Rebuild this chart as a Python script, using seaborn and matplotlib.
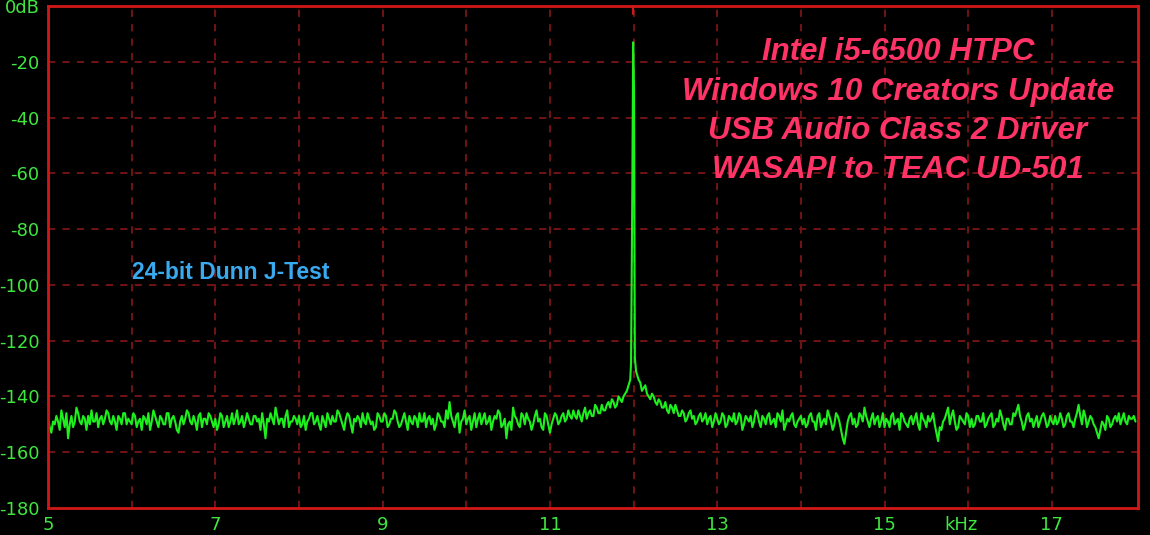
import numpy as np
import matplotlib
matplotlib.use('Agg')
import matplotlib.pyplot as plt
import seaborn as sns

# noise floor, 5.00 .. 11.96 kHz, 0.04 kHz step (dB)
lo_db = [
    -148, -153, -150, -149, -145, -151, -155, -147, -149, -146, -150, -148, -147, -145, -149, -151, -147, -148, -146, -150, -149, -147, -150, -146, -148,
    -150, -147, -149, -152, -148, -146, -149, -147, -151, -148, -150, -146, -148, -149, -153, -147, -148, -146, -150, -149, -147, -151, -148, -146, -149,
    -148, -150, -147, -149, -151, -146, -148, -150, -147, -149, -148, -150, -147, -148, -146, -155, -149, -148, -144, -150, -148, -147, -151, -149, -148,
    -147, -150, -152, -148, -146, -149, -150, -147, -151, -148, -147, -149, -146, -150, -148, -147, -153, -149, -148, -146, -150, -148, -149, -151, -147,
    -149, -147, -150, -148, -146, -151, -148, -149, -147, -150, -148, -146, -149, -151, -147, -148, -150, -147, -149, -145, -142, -149, -147, -153, -148,
    -150, -147, -149, -151, -146, -148, -150, -147, -149, -148, -146, -150, -155, -149, -144, -148, -151, -147, -146, -149, -150, -145, -148, -152, -147,
    -153, -148, -147, -149, -146, -148, -147, -145, -148, -147, -146, -148, -145, -147, -144, -146, -145, -143, -144, -142, -143, -141, -140, -138, -134,
]
# in-between readings, 5.02 .. 11.94 kHz
lo_mid_db = [
    -151, -149, -147, -152, -148, -146, -150, -151, -144, -149, -147, -152, -150, -149, -146, -148, -150, -145, -149, -147, -152, -148, -146, -150, -149,
    -146, -151, -148, -147, -150, -152, -145, -149, -147, -150, -146, -151, -147, -152, -149, -150, -145, -149, -147, -152, -146, -148, -150, -147, -151,
    -152, -146, -151, -147, -149, -150, -145, -149, -151, -146, -150, -147, -149, -152, -150, -148, -146, -150, -147, -148, -151, -145, -149, -147, -150,
    -151, -147, -149, -146, -150, -147, -152, -149, -146, -150, -149, -145, -148, -152, -146, -150, -148, -147, -151, -149, -146, -150, -152, -146, -149,
    -146, -151, -148, -145, -149, -150, -146, -152, -149, -147, -151, -149, -146, -148, -150, -152, -146, -149, -151, -148, -147, -151, -146, -149, -145,
    -148, -152, -146, -148, -150, -146, -149, -152, -147, -145, -151, -148, -150, -152, -147, -150, -146, -150, -148, -152, -147, -149, -151, -146, -150,
    -150, -146, -150, -147, -149, -145, -148, -147, -145, -149, -144, -146, -147, -143, -146, -143, -145, -142, -141, -144, -140, -142, -139, -136,
]
# the 12 kHz tone and its neighbouring bins
peak_khz = [11.97, 11.985, 11.995, 12.005, 12.015, 12.03]
peak_db = [-128, -66, -13, -29, -126, -131]
# noise floor, 12.04 .. 18.00 kHz, 0.04 kHz step (dB)
hi_db = [
    -132, -135, -137, -139, -141, -140, -143, -142, -144, -145, -143, -146, -145, -147, -146, -148, -145, -147, -149, -146, -148, -150, -147, -149, -148,
    -149, -147, -150, -148, -146, -149, -147, -150, -148, -147, -149, -146, -151, -148, -147, -150, -148, -146, -149, -152, -148, -147, -150, -149, -147,
    -148, -150, -146, -149, -147, -151, -148, -145, -149, -150, -147, -152, -157, -149, -146, -148, -150, -147, -144, -149, -148, -150, -147, -149, -151,
    -149, -147, -150, -148, -146, -149, -151, -147, -148, -150, -146, -149, -147, -148, -150, -156, -152, -148, -144, -147, -149, -151, -148, -150, -147,
    -148, -150, -147, -149, -151, -148, -146, -150, -149, -147, -152, -148, -150, -147, -143, -149, -150, -146, -148, -149, -151, -147, -148, -150, -149,
    -147, -149, -148, -150, -146, -149, -148, -143, -150, -147, -149, -148, -151, -155, -149, -152, -148, -150, -147, -146, -148, -149, -147, -148, -149,
]
# in-between readings, 12.06 .. 17.98 kHz
hi_mid_db = [
    -134, -138, -136, -140, -139, -142, -141, -144, -142, -146, -144, -143, -147, -145, -149, -146, -148, -150, -147, -149, -146, -148, -151, -146, -150,
    -146, -151, -147, -149, -150, -146, -152, -147, -149, -151, -145, -149, -147, -150, -146, -149, -151, -147, -145, -150, -149, -146, -151, -148, -150,
    -151, -147, -149, -152, -146, -149, -150, -147, -152, -146, -149, -155, -153, -147, -150, -151, -146, -149, -147, -151, -146, -148, -151, -146, -148,
    -151, -146, -149, -152, -147, -150, -148, -150, -146, -152, -148, -151, -149, -146, -153, -151, -149, -146, -150, -145, -152, -147, -149, -146, -151,
    -151, -147, -149, -146, -150, -147, -151, -148, -145, -150, -148, -150, -146, -145, -147, -152, -147, -149, -151, -147, -149, -146, -151, -147, -150,
    -150, -146, -151, -147, -149, -151, -146, -147, -145, -151, -147, -150, -153, -152, -150, -147, -151, -148, -149, -150, -146, -150, -148, -147,
]

y_ticks = [0, -20, -40, -60, -80, -100, -120, -140, -160, -180]
y_labels = ['0dB', '-20', '-40', '-60', '-80', '-100', '-120', '-140', '-160', '-180']
x_ticks = [5, 7, 9, 11, 13, 15, 17]
title_lines = ['Intel i5-6500 HTPC', 'Windows 10 Creators Update',
               'USB Audio Class 2 Driver', 'WASAPI to TEAC UD-501']
test_name = '24-bit Dunn J-Test'

GREEN = '#1ef01e'
LABEL_GREEN = '#3ee63e'
RED = '#d01818'
GRID = '#7a1414'
PINK = '#ff3366'
BLUE = '#3aaaf0'
TICK_FONT = ['Liberation Sans Narrow', 'DejaVu Sans']

lo_khz = 5.0 + 0.04 * np.arange(len(lo_db))
lo_mid_khz = 5.02 + 0.04 * np.arange(len(lo_mid_db))
hi_khz = 12.04 + 0.04 * np.arange(len(hi_db))
hi_mid_khz = 12.06 + 0.04 * np.arange(len(hi_mid_db))
khz = np.concatenate([lo_khz, lo_mid_khz, peak_khz, hi_khz, hi_mid_khz])
db = np.concatenate([lo_db, lo_mid_db, peak_db, hi_db, hi_mid_db])
order = np.argsort(khz)
khz, db = khz[order], db[order]

sns.set_style('dark')
fig = plt.figure(figsize=(11.5, 5.35), dpi=100, facecolor='black')
ax = fig.add_axes([48 / 1150, 1 - 508 / 535, 1090 / 1150, 502 / 535])
ax.set_facecolor('black')

sns.lineplot(x=khz, y=db, ax=ax, color=GREEN, linewidth=1.5,
             estimator=None, sort=False)

ax.set_xlim(5, 18.03)
ax.set_ylim(-180, 0)

# dashed grid
for k in range(6, 18):
    ax.axvline(k, color=GRID, linestyle=(0, (4, 4)), linewidth=1.3, zorder=0)
for v in y_ticks[1:-1]:
    ax.axhline(v, color=GRID, linestyle=(0, (4, 4)), linewidth=1.3, zorder=0)

for s in ax.spines.values():
    s.set_color(RED)
    s.set_linewidth(2)
    s.set_visible(True)

ax.set_yticks(y_ticks)
ax.set_yticklabels(y_labels)
ax.set_xticks(x_ticks)
ax.set_xticklabels([str(t) for t in x_ticks])
ax.tick_params(axis='both', colors=RED, labelcolor=LABEL_GREEN, length=4,
               width=1.5, direction='out', labelsize=13, pad=2)
for lab in ax.get_xticklabels() + ax.get_yticklabels():
    lab.set_family(TICK_FONT)
ax.set_xlabel('')
ax.set_ylabel('')
ax.grid(False)

# little marker at top above the tone
tone = peak_khz[int(np.argmax(peak_db))]
ax.plot([tone, tone], [0, -3], color=RED, linewidth=1.5, clip_on=False)

ax.text(15.92, -186, 'kHz', color=LABEL_GREEN, fontsize=13,
        family=TICK_FONT, ha='center', va='center', clip_on=False)

ys = [52, 92, 131, 170]
for line, yp in zip(title_lines, ys):
    fig.text(898 / 1150, 1 - yp / 535, line, color=PINK, fontsize=22.5,
             fontweight='bold', fontstyle='italic', family='Liberation Sans',
             ha='center', va='center')

ax.text(6.0, -95.5, test_name, color=BLUE, fontsize=16.5, fontweight='bold',
        family='Liberation Sans', ha='left', va='center')

fig.savefig('out.png', dpi=100, facecolor='black')
